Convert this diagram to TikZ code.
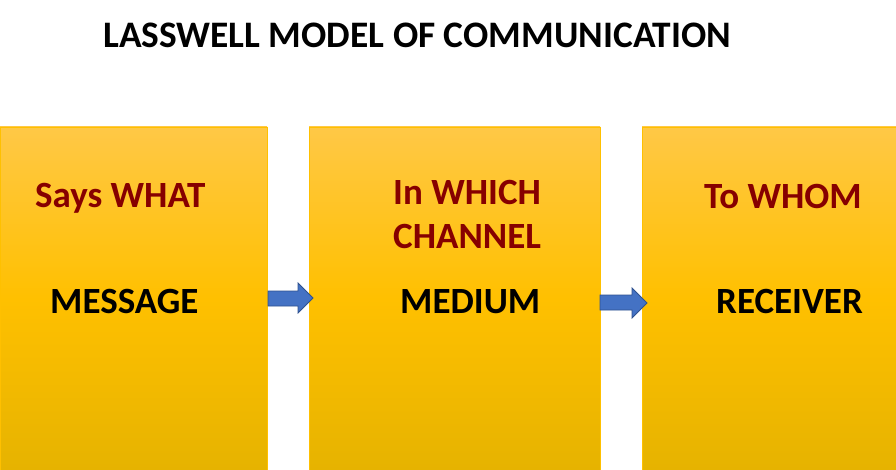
\documentclass[tikz,border=0pt]{standalone}
\usepackage{fontspec}
\setmainfont{Carlito}
\definecolor{boxtop}{RGB}{255,200,70}
\definecolor{boxmid}{RGB}{255,192,0}
\definecolor{boxbot}{RGB}{230,179,0}
\definecolor{boxline}{RGB}{255,192,0}
\definecolor{maroon}{RGB}{134,0,0}
\definecolor{arrowfill}{RGB}{68,114,196}
\definecolor{arrowline}{RGB}{47,82,143}
\tikzset{
  panel/.style={draw=boxline, line width=0.8pt, top color=boxtop, bottom color=boxbot, middle color=boxmid},
  head/.style={font=\fontsize{37}{40}\selectfont\bfseries, text=maroon, anchor=base west, inner sep=0pt},
  body/.style={font=\fontsize{37}{40}\selectfont\bfseries, text=black, anchor=base west, inner sep=0pt},
  titletext/.style={font=\fontsize{37.4}{40}\selectfont\bfseries, text=black, anchor=base west, inner sep=0pt},
  blockarrow/.style={fill=arrowfill, draw=arrowline, line width=0.8pt, line join=miter},
}
\begin{document}
\begin{tikzpicture}[x=1pt,y=-1pt]
\useasboundingbox (0,0) rectangle (896,470);
\fill[white] (0,0) rectangle (896,470);
\node[titletext] (title) at (103,48) {LASSWELL MODEL OF COMMUNICATION};
% panels
\draw[panel] (0,127) rectangle (267,470);
\draw[panel] (309,127) rectangle (600,470);
\draw[panel] (642,127) rectangle (896,470);
% arrows
\draw[blockarrow] (268,291) -- (298,291) -- (298,283) -- (313,298) -- (298,313) -- (298,306) -- (268,306) -- cycle;
\draw[blockarrow] (600,295) -- (632,295) -- (632,288) -- (647,303) -- (632,318) -- (632,310) -- (600,310) -- cycle;
% texts
\node[head] (t1) at (35,208) {Says WHAT};
\node[body] (b1) at (50,313) {MESSAGE};
\node[head] (t2a) at (393,205) {In WHICH};
\node[head] (t2b) at (393,249) {CHANNEL};
\node[body] (b2) at (400,313) {MEDIUM};
\node[head] (t3) at (704,209) {To WHOM};
\node[body] (b3) at (716,313) {RECEIVER};
\end{tikzpicture}
\end{document}
